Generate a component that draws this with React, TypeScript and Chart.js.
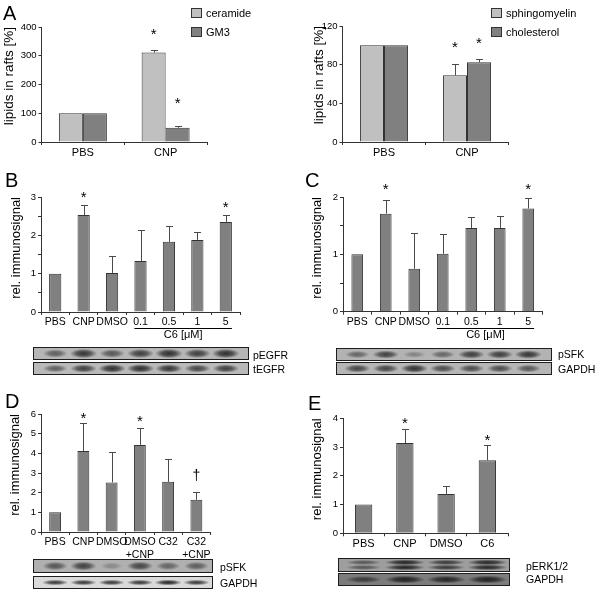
import React, { useEffect, useRef } from 'react';
import { Chart, registerables } from 'chart.js';

Chart.register(...registerables);

const FONT = '"Liberation Sans", Arial, Helvetica, sans-serif';
const W = 600;
const H = 589;
const AXIS = '#333';
const LIGHT = '#c0c0c0';
const DARK = '#808080';

// ---------- data ----------
// Panel A
const lipidCats = ['PBS', 'CNP'];
const ceramide = [100, 311];
const ceramideErr = [null, 320];
const gm3 = [100, 49.5];
const gm3Err = [null, 55];
const sphingomyelin = [100, 69];
const sphingomyelinErr = [null, 80.5];
const cholesterol = [100, 82.5];
const cholesterolErr = [null, 85.5];

// Panel B / C
const catsBC = ['PBS', 'CNP', 'DMSO', '0.1', '0.5', '1', '5'];
const pegfr = [1.0, 2.53, 1.02, 1.33, 1.83, 1.88, 2.35];
const pegfrErr = [null, 2.78, 1.46, 2.15, 2.25, 2.09, 2.53];
const psfkC = [1.0, 1.71, 0.75, 1.01, 1.46, 1.46, 1.8];
const psfkCErr = [null, 1.95, 1.38, 1.36, 1.65, 1.66, 1.99];

// Panel D
const catsD = ['PBS', 'CNP', 'DMSO', ['DMSO', '+CNP'], 'C32', ['C32', '+CNP']];
const psfkD = [1.0, 4.12, 2.52, 4.43, 2.55, 1.64];
const psfkDErr = [null, 5.52, 4.05, 5.27, 3.7, 2.03];

// Panel E
const catsE = ['PBS', 'CNP', 'DMSO', 'C6'];
const perk = [1.0, 3.14, 1.37, 2.54];
const perkErr = [null, 3.62, 1.65, 3.07];

// significance marks: [category index, dataset index, value, symbol]
const marksA1 = [[1, 0, 388, '*'], [1, 1, 148, '*']];
const marksA2 = [[1, 0, 102, '*'], [1, 1, 106.5, '*']];
const marksB = [[1, 0, 3.1, '*'], [6, 0, 2.84, '*']];
const marksC = [[1, 0, 2.21, '*'], [6, 0, 2.21, '*']];
const marksD = [[1, 0, 6.0, '*'], [3, 0, 5.83, '*'], [5, 0, 2.85, '†']];
const marksE = [[1, 0, 3.97, '*'], [3, 0, 3.36, '*']];

// blot band intensities (one per lane)
const bandsPEGFR = [0.6, 0.88, 0.66, 0.82, 0.92, 0.82, 0.92];
const bandsTEGFR = [0.6, 0.82, 0.92, 0.92, 0.88, 0.77, 0.82];
const bandsPSFKC = [0.55, 0.8, 0.33, 0.55, 0.82, 0.82, 0.88];
const bandsGAPDHC = [0.77, 0.77, 0.9, 0.72, 0.72, 0.72, 0.66];
const bandsPSFKD = [0.66, 0.8, 0.28, 0.77, 0.55, 0.6];
const bandsGAPDHD = [0.82, 0.82, 0.82, 0.82, 0.92, 0.82];
const bandsPERK = [0.55, 0.95, 0.77, 0.92];
const bandsGAPDHE = [0.66, 0.92, 0.88, 0.92];

// ---------- chart specs ----------
const specs: any[] = [
  {
    key: 'A1', panelLeft: 0, area: { l: 41.5, t: 27, r: 207, b: 142 },
    labels: lipidCats, yMax: 400, yStep: 100, labelEvery: 100,
    title: 'lipids in rafts [%]', titleX: 9, titleSize: 13.5, xFont: 11,
    catPct: 0.58, barPct: 1,
    series: [
      { label: 'ceramide', data: ceramide, err: ceramideErr, color: LIGHT },
      { label: 'GM3', data: gm3, err: gm3Err, color: DARK },
    ],
    marks: marksA1,
  },
  {
    key: 'A2', panelLeft: 300, area: { l: 342.5, t: 26, r: 508.5, b: 142 },
    labels: lipidCats, yMax: 120, yStep: 40, labelEvery: 40,
    title: 'lipids in rafts [%]', titleX: 319, titleSize: 13.5, xFont: 11,
    catPct: 0.58, barPct: 1,
    series: [
      { label: 'sphingomyelin', data: sphingomyelin, err: sphingomyelinErr, color: LIGHT },
      { label: 'cholesterol', data: cholesterol, err: cholesterolErr, color: DARK },
    ],
    marks: marksA2,
  },
  {
    key: 'B', panelLeft: 0, area: { l: 41, t: 197, r: 240, b: 312 },
    labels: catsBC, yMax: 3, yStep: 0.5, labelEvery: 1,
    title: 'rel. immunosignal', titleX: 16, titleSize: 13, xFont: 10.5,
    catPct: 1, barPct: 0.43,
    series: [{ label: 'pEGFR', data: pegfr, err: pegfrErr, color: DARK }],
    marks: marksB,
    bracket: { from: 3, to: 6, text: 'C6 [μM]' },
  },
  {
    key: 'C', panelLeft: 300, area: { l: 343, t: 197, r: 542.5, b: 311.7 },
    labels: catsBC, yMax: 2, yStep: 0.5, labelEvery: 1,
    title: 'rel. immunosignal', titleX: 317.5, titleSize: 13, xFont: 10.5,
    catPct: 1, barPct: 0.41,
    series: [{ label: 'pSFK', data: psfkC, err: psfkCErr, color: DARK }],
    marks: marksC,
    bracket: { from: 3, to: 6, text: 'C6 [μM]' },
  },
  {
    key: 'D', panelLeft: 0, area: { l: 41, t: 414, r: 210.5, b: 532 },
    labels: catsD, yMax: 6, yStep: 1, labelEvery: 1,
    title: 'rel. immunosignal', titleX: 15, titleSize: 13, xFont: 10.5,
    catPct: 1, barPct: 0.42,
    series: [{ label: 'pSFK', data: psfkD, err: psfkDErr, color: DARK }],
    marks: marksD,
  },
  {
    key: 'E', panelLeft: 300, area: { l: 343, t: 418.3, r: 508, b: 533.3 },
    labels: catsE, yMax: 4, yStep: 1, labelEvery: 1,
    title: 'rel. immunosignal', titleX: 317, titleSize: 13, xFont: 11,
    catPct: 1, barPct: 0.42,
    series: [{ label: 'pERK1/2', data: perk, err: perkErr, color: DARK }],
    marks: marksE,
  },
];

function overlayPlugin(spec: any) {
  return {
    id: 'overlay' + spec.key,
    afterDatasetsDraw(chart: any) {
      const ctx = chart.ctx;
      const ys = chart.scales.y;
      const xs = chart.scales.x;
      ctx.save();
      // error bars (upper)
      spec.series.forEach((s: any, di: number) => {
        const meta = chart.getDatasetMeta(di);
        s.err.forEach((e: any, i: number) => {
          if (e == null) return;
          const bar = meta.data[i];
          const px = Math.round(bar.x) + 0.5;
          const top = Math.round(ys.getPixelForValue(e)) + 0.5;
          ctx.strokeStyle = '#4a4a4a';
          ctx.lineWidth = 1;
          ctx.beginPath();
          ctx.moveTo(px, bar.y);
          ctx.lineTo(px, top);
          ctx.moveTo(px - 3.5, top);
          ctx.lineTo(px + 3.5, top);
          ctx.stroke();
        });
      });
      // significance marks
      spec.marks.forEach((m: any) => {
        const [ci, di, v, sym] = m;
        const bar = chart.getDatasetMeta(di).data[ci];
        const py = ys.getPixelForValue(v);
        const fs = sym === '*' ? 15 : 14;
        ctx.font = `${fs}px ${FONT}`;
        ctx.fillStyle = '#000';
        ctx.textAlign = 'center';
        ctx.textBaseline = 'alphabetic';
        const off = sym === '*' ? 0.57 : 0.29;
        ctx.fillText(sym, bar.x, py + off * fs);
      });
      // bracket for C6 concentrations
      if (spec.bracket) {
        const meta = chart.getDatasetMeta(0);
        const a = meta.data[spec.bracket.from];
        const b = meta.data[spec.bracket.to];
        const yLine = Math.round(xs.top + 16) + 0.5;
        ctx.strokeStyle = '#000';
        ctx.lineWidth = 1;
        ctx.beginPath();
        ctx.moveTo(a.x - a.width / 2, yLine);
        ctx.lineTo(b.x + b.width / 2, yLine);
        ctx.stroke();
        ctx.font = `11px ${FONT}`;
        ctx.fillStyle = '#000';
        ctx.textAlign = 'center';
        ctx.textBaseline = 'middle';
        ctx.fillText(spec.bracket.text, (a.x - a.width / 2 + b.x + b.width / 2) / 2, xs.top + 23);
      }
      ctx.restore();
    },
  };
}

function buildConfig(spec: any): any {
  const { area, panelLeft } = spec;
  const wy = area.l - panelLeft;
  const hx = 40;
  const every = spec.labelEvery;
  return {
    type: 'bar',
    data: {
      labels: spec.labels,
      datasets: spec.series.map((s: any) => ({
        label: s.label,
        data: s.data,
        backgroundColor: s.color,
        borderColor: '#333',
        borderWidth: 1,
        categoryPercentage: spec.catPct,
        barPercentage: spec.barPct,
      })),
    },
    options: {
      responsive: false,
      animation: false,
      devicePixelRatio: 1,
      events: [],
      layout: {
        autoPadding: false,
        padding: { left: panelLeft, top: area.t, right: W - area.r, bottom: H - area.b - hx },
      },
      plugins: { legend: { display: false }, tooltip: { enabled: false } },
      scales: {
        x: {
          type: 'category',
          offset: true,
          grid: { offset: true, drawOnChartArea: false, drawTicks: true, tickLength: 3, color: AXIS },
          border: { display: true, color: AXIS, width: 1 },
          ticks: {
            font: { family: FONT, size: spec.xFont },
            color: '#000',
            padding: 1,
            maxRotation: 0,
            minRotation: 0,
            autoSkip: false,
          },
          afterFit: (s: any) => { s.height = hx; },
        },
        y: {
          min: 0,
          max: spec.yMax,
          grid: { drawOnChartArea: false, drawTicks: true, tickLength: 3, color: AXIS },
          border: { display: true, color: AXIS, width: 1 },
          ticks: {
            stepSize: spec.yStep,
            font: { family: FONT, size: 9.5 },
            color: '#000',
            padding: 2,
            callback: (v: number) => {
              const q = v / every;
              return Math.abs(q - Math.round(q)) < 1e-6 ? String(Math.round(v * 1000) / 1000) : '';
            },
          },
          title: {
            display: true,
            text: spec.title,
            align: 'end',
            color: '#000',
            font: { family: FONT, size: spec.titleSize },
            padding: { top: spec.titleX - panelLeft - spec.titleSize * 0.6, bottom: 0 },
          },
          afterFit: (s: any) => { s.width = wy; },
        },
      },
    },
    plugins: [overlayPlugin(spec)],
  };
}

function ChartLayer({ spec }: { spec: any }) {
  const ref = useRef<HTMLCanvasElement>(null);
  useEffect(() => {
    if (!ref.current) return;
    const chart = new Chart(ref.current, buildConfig(spec));
    return () => chart.destroy();
  }, [spec]);
  return (
    <canvas
      ref={ref}
      width={W}
      height={H}
      style={{ position: 'absolute', left: 0, top: 0, width: W, height: H }}
    />
  );
}

function Blot({ x, y, w, h, bg, laneL, laneR, bands, double, tone, bandH }: any) {
  const n = bands.length;
  const lw = (laneR - laneL) / n;
  const layers: string[] = [];
  bands.forEach((a: number, i: number) => {
    const cx = laneL - x - 1 + (i + 0.5) * lw;
    const rx = lw * (0.34 + 0.16 * a);
    const ry = bandH * (0.6 + 0.4 * a);
    const offs = double ? [-2.6, 2.4] : [0];
    offs.forEach((o) => {
      const cy = (h - 2) / 2 + o;
      layers.push(
        `radial-gradient(${rx.toFixed(1)}px ${ry.toFixed(1)}px at ${cx.toFixed(1)}px ${cy.toFixed(1)}px, rgba(${tone},${a}) 0%, rgba(${tone},${(a * 0.75).toFixed(2)}) 50%, rgba(${tone},0) 100%)`
      );
    });
  });
  return (
    <div
      style={{
        position: 'absolute', left: x, top: y, width: w, height: h, boxSizing: 'border-box',
        border: '1px solid #1e1e1e', backgroundColor: bg, backgroundImage: layers.join(','),
      }}
    />
  );
}

function Label({ x, cy, text, size = 10.5 }: any) {
  return (
    <div
      style={{
        position: 'absolute', left: x, top: cy - 7, height: 14, lineHeight: '14px',
        fontSize: size, fontFamily: FONT, color: '#000', whiteSpace: 'nowrap',
      }}
    >
      {text}
    </div>
  );
}

function Letter({ x, top, text }: any) {
  return (
    <div
      style={{
        position: 'absolute', left: x, top, fontSize: 20, lineHeight: '20px',
        fontFamily: FONT, color: '#000',
      }}
    >
      {text}
    </div>
  );
}

function LegendItem({ x, y, color, text }: any) {
  return (
    <>
      <div
        style={{
          position: 'absolute', left: x, top: y, width: 11, height: 10, boxSizing: 'border-box',
          border: '1px solid #333', background: color,
        }}
      />
      <Label x={x + 15} cy={y + 5} text={text} size={11} />
    </>
  );
}

export default function App() {
  return (
    <div
      style={{
        position: 'absolute', left: 0, top: 0, width: W, height: H, background: '#fff',
        overflow: 'hidden', fontFamily: FONT,
      }}
    >
      {specs.map((s) => (
        <ChartLayer key={s.key} spec={s} />
      ))}

      <Letter x={3} top={3} text="A" />
      <Letter x={5} top={169.8} text="B" />
      <Letter x={305} top={170.1} text="C" />
      <Letter x={5} top={391.4} text="D" />
      <Letter x={308} top={393.1} text="E" />

      <LegendItem x={191} y={7.5} color={LIGHT} text="ceramide" />
      <LegendItem x={191} y={27} color={DARK} text="GM3" />
      <LegendItem x={491} y={7.5} color={LIGHT} text="sphingomyelin" />
      <LegendItem x={491} y={27} color={DARK} text="cholesterol" />

      {/* B blots */}
      <Blot x={33} y={347} w={216} h={13} bg="#b6b6b6" laneL={41} laneR={240} bands={bandsPEGFR} tone="35,35,35" bandH={5} />
      <Blot x={33} y={362} w={216} h={13} bg="#b9b9b9" laneL={41} laneR={240} bands={bandsTEGFR} tone="35,35,35" bandH={4.5} />
      <Label x={253} cy={355} text="pEGFR" />
      <Label x={253} cy={369.3} text="tEGFR" />

      {/* C blots */}
      <Blot x={336} y={348} w={216} h={13} bg="#b3b3b3" laneL={343} laneR={542.5} bands={bandsPSFKC} tone="35,35,35" bandH={4.5} />
      <Blot x={336} y={362} w={216} h={13} bg="#b6b6b6" laneL={343} laneR={542.5} bands={bandsGAPDHC} tone="35,35,35" bandH={4.5} />
      <Label x={558} cy={354.3} text="pSFK" />
      <Label x={558} cy={369.3} text="GAPDH" />

      {/* D blots */}
      <Blot x={33} y={559} w={180} h={14} bg="#b0b0b0" laneL={41} laneR={210.5} bands={bandsPSFKD} tone="35,35,35" bandH={5} />
      <Blot x={33} y={576} w={180} h={13} bg="#dadada" laneL={41} laneR={210.5} bands={bandsGAPDHD} tone="25,25,25" bandH={3} />
      <Label x={220} cy={566.7} text="pSFK" />
      <Label x={220} cy={582.7} text="GAPDH" />

      {/* E blots */}
      <Blot x={338} y={558} w={172} h={14} bg="#9e9e9e" laneL={343} laneR={508} bands={bandsPERK} double tone="30,30,30" bandH={3} />
      <Blot x={338} y={573} w={172} h={13} bg="#7c7c7c" laneL={343} laneR={508} bands={bandsGAPDHE} tone="25,25,25" bandH={4} />
      <Label x={526} cy={566} text="pERK1/2" />
      <Label x={526} cy={579.3} text="GAPDH" />
    </div>
  );
}
